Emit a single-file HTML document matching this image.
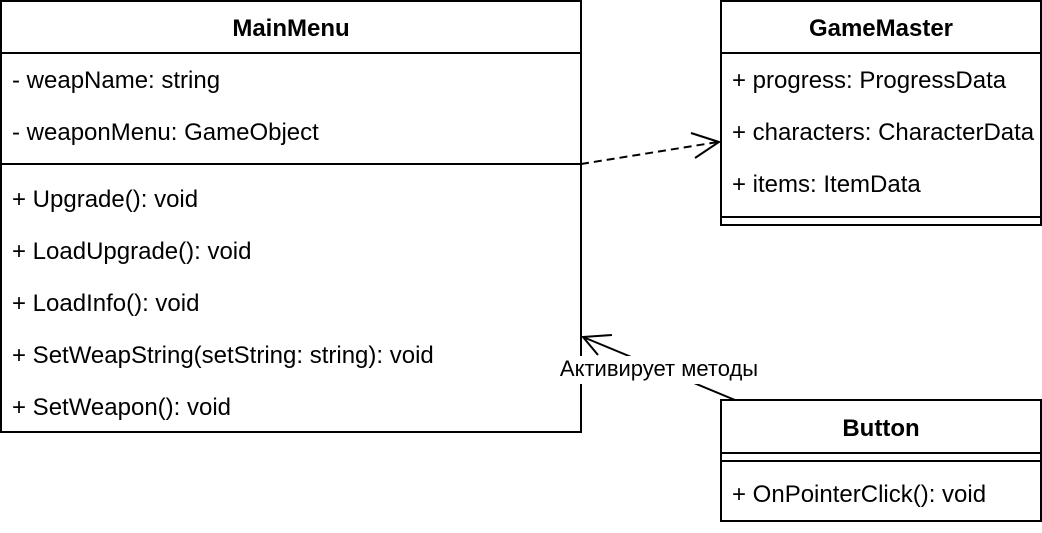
<!DOCTYPE html>
<html><head><meta charset="utf-8"><style>
body{margin:0;background:#fff;}
svg text{font-family:"Liberation Sans","Noto Sans CJK SC",sans-serif;font-size:24px;fill:#000;}
</style></head><body>
<svg width="1042" height="528" xmlns="http://www.w3.org/2000/svg">
<g fill="none" stroke="#000" stroke-width="2">
<rect x="1" y="1" width="580" height="431"/>
<line x1="1" y1="53" x2="581" y2="53"/>
<line x1="1" y1="164" x2="581" y2="164"/>
<rect x="721" y="1" width="320" height="224"/>
<line x1="721" y1="53" x2="1041" y2="53"/>
<line x1="721" y1="217" x2="1041" y2="217"/>
<rect x="721" y="400" width="320" height="121"/>
<line x1="721" y1="453" x2="1041" y2="453"/>
<line x1="721" y1="461" x2="1041" y2="461"/>
<line x1="581" y1="164" x2="718" y2="142" stroke-dasharray="8,5"/>
<polyline points="691,133 719,142 695,158"/>
<line x1="735" y1="400" x2="583" y2="337"/>
<polyline points="612,335 583,337 598,355"/>
</g>
<rect x="557" y="356" width="204" height="28" fill="#fff"/>
<text x="659" y="376" text-anchor="middle" style="font-size:22px">Активирует методы</text>
<text x="291" y="36" text-anchor="middle" font-weight="bold">MainMenu</text>
<text x="881" y="36" text-anchor="middle" font-weight="bold">GameMaster</text>
<text x="881" y="436" text-anchor="middle" font-weight="bold">Button</text>
<text x="12" y="88">- weapName: string</text>
<text x="12" y="140">- weaponMenu: GameObject</text>
<text x="12" y="207">+ Upgrade(): void</text>
<text x="12" y="259">+ LoadUpgrade(): void</text>
<text x="12" y="311">+ LoadInfo(): void</text>
<text x="12" y="363">+ SetWeapString(setString: string): void</text>
<text x="12" y="415">+ SetWeapon(): void</text>
<text x="732" y="88">+ progress: ProgressData</text>
<text x="732" y="140">+ characters: CharacterData</text>
<text x="732" y="192">+ items: ItemData</text>
<text x="732" y="502">+ OnPointerClick(): void</text>
</svg>
</body></html>
